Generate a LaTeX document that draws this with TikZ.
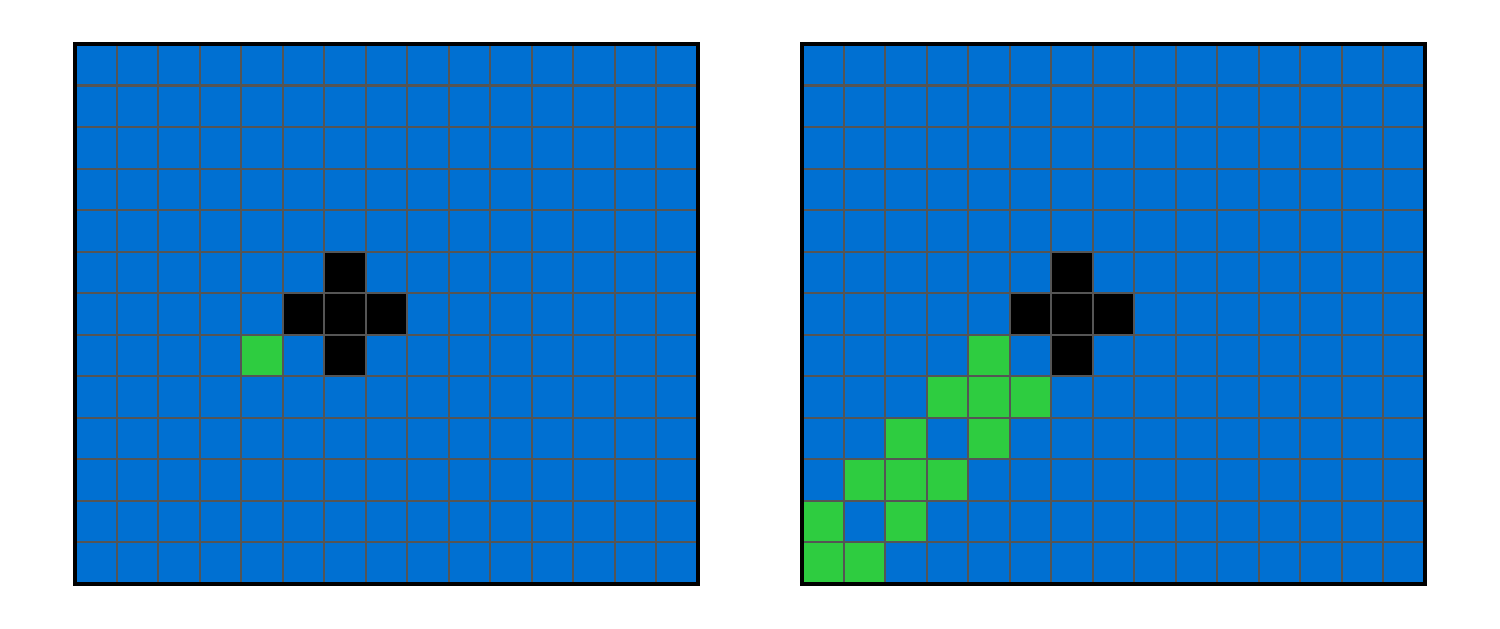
\documentclass[tikz,border=0pt]{standalone}
\definecolor{seablue}{RGB}{0,112,210}
\definecolor{landgreen}{RGB}{46,204,64}
\definecolor{gridgray}{RGB}{85,85,85}
\begin{document}
\begin{tikzpicture}[scale=0.5]
\def\xL{0};
\def\xR{17.504};
\def\nX{15};
\def\nY{13};
\useasboundingbox (-1.806,-1.083) rectangle (34.31,14.059);
\foreach \xO in {\xL,\xR} {
\begin{scope}[shift={(\xO,0)}]
\fill[seablue] (0,0) rectangle (\nX,\nY);
\foreach \x/\y in {6/7,5/6,6/6,7/6,6/5} \fill[black] (\x,\y) rectangle ++(1,1);
\end{scope}
}
% left grid: one green cell
\foreach \x/\y in {4/5} \fill[landgreen] (\xL+\x,\y) rectangle ++(1,1);
% right grid: the green path
\foreach \x/\y in {4/5,3/4,4/4,5/4,2/3,4/3,1/2,2/2,3/2,0/1,2/1,0/0,1/0}
  \fill[landgreen] (\xR+\x,\y) rectangle ++(1,1);
\foreach \xO in {\xL,\xR} {
\begin{scope}[shift={(\xO,0)}]
\foreach \x in {1,...,14} \draw[gridgray, line width=0.7pt] (\x,0) -- (\x,\nY);
\foreach \y in {1,...,12} \draw[gridgray, line width=0.7pt] (0,\y) -- (\nX,\y);
\draw[black, line width=1.3pt] (0,0) rectangle (\nX,\nY);
\end{scope}
}
\end{tikzpicture}
\end{document}
